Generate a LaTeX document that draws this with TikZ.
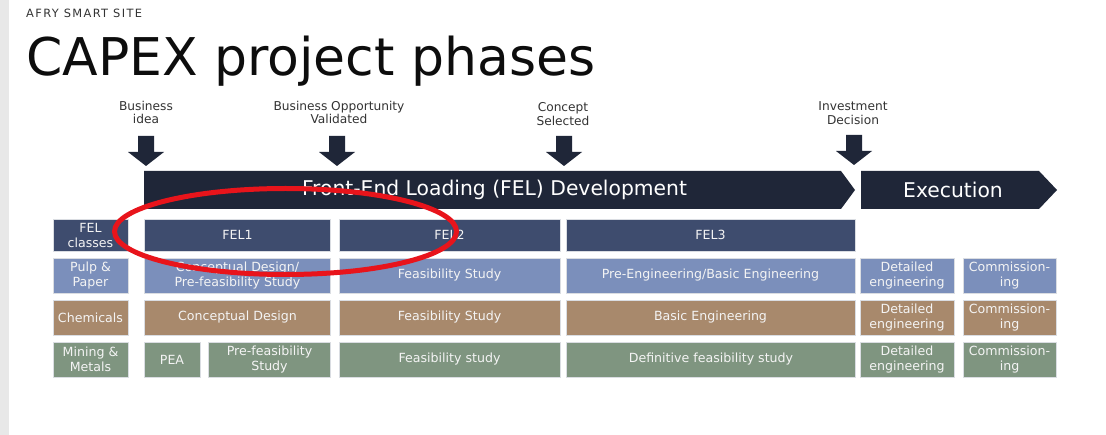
\documentclass[tikz,border=0pt]{standalone}
\usepackage{fontspec}
\setmainfont{DejaVu Sans}
\definecolor{darknavy}{HTML}{1F2638}
\definecolor{felblue}{HTML}{3E4C6E}
\definecolor{pulpblue}{HTML}{7B8FBB}
\definecolor{chembrown}{HTML}{A8896C}
\definecolor{minegreen}{HTML}{7F9580}
\definecolor{celltext}{HTML}{F4F4F4}
\definecolor{cellline}{HTML}{DADDE2}
\definecolor{markred}{HTML}{E8141B}
\tikzset{
  cell/.style = {rectangle, fill=#1, draw=cellline, line width=0.8pt,
                 text=celltext, align=center, inner sep=0pt,
                 font=\fontsize{12.6}{15}\selectfont, minimum height=35pt},
  cell/.default = pulpblue,
  milestone/.style = {align=center, text=black!80, inner sep=0pt,
                      font=\fontsize{12.2}{13.6}\selectfont},
  phase/.style = {text=white, inner sep=0pt,
                  font=\fontsize{20.3}{24}\selectfont}
}

\begin{document}
\begin{tikzpicture}[x=1pt, y=-1pt]
	\def \rowA{235}   % FEL classes
	\def \rowB{275.5} % Pulp & Paper
	\def \rowC{317.5} % Chemicals
	\def \rowD{359.5} % Mining & Metals

	\useasboundingbox (0,0) rectangle (1106,435);
	\fill[white] (0,0) rectangle (1106,435);
	\fill[black!9] (0,0) rectangle (9,435);

	% Heading
	\node[anchor=base west, inner sep=0pt, text=black!80,
	      font=\fontsize{11.4}{13}\selectfont\addfontfeature{LetterSpace=12}] (site) at (26,17.5) {AFRY SMART SITE};
	\node[anchor=base west, inner sep=0pt, text=black!95,
	      font=\fontsize{52}{60}\selectfont] (title) at (26,76) {CAPEX project phases};

	% Milestones
	\node[milestone] (idea)     at (146,112.5) {Business\\idea};
	\node[milestone] (validated) at (339,112.5) {Business Opportunity\\Validated};
	\node[milestone] (concept)  at (563,114) {Concept\\Selected};
	\node[milestone] (decision) at (853,113) {Investment\\Decision};

	% Block arrows
	\fill[darknavy] (146,166) -- ++(-18,-14) -- ++(10,0) -- ++(0,-16) -- ++(16,0) -- ++(0,16) -- ++(10,0) -- cycle;
	\fill[darknavy] (337,166) -- ++(-18,-14) -- ++(10,0) -- ++(0,-16) -- ++(16,0) -- ++(0,16) -- ++(10,0) -- cycle;
	\fill[darknavy] (564,166) -- ++(-18,-14) -- ++(10,0) -- ++(0,-16) -- ++(16,0) -- ++(0,16) -- ++(10,0) -- cycle;
	\fill[darknavy] (854,165) -- ++(-18,-14) -- ++(10,0) -- ++(0,-16) -- ++(16,0) -- ++(0,16) -- ++(10,0) -- cycle;

	% Chevrons
	\fill[darknavy] (144,171) -- (841,171) -- (855,190) -- (841,209) -- (144,209) -- cycle;
	\fill[darknavy] (861,171) -- (1039,171) -- (1057,190) -- (1039,209) -- (861,209) -- cycle;
	\node[phase] (fel)  at (494.5,190) {Front-End Loading (FEL) Development};
	\node[phase] (exec) at (953,190) {Execution};

	% FEL classes
	\node[cell=felblue, minimum width=75pt,  minimum height=32pt] (felcls) at (90.5,\rowA) {FEL\\classes};
	\node[cell=felblue, minimum width=186pt, minimum height=32pt] (fel1)   at (237.5,\rowA) {FEL1};
	\node[cell=felblue, minimum width=221pt, minimum height=32pt] (fel2)   at (449.5,\rowA) {FEL2};
	\node[cell=felblue, minimum width=289pt, minimum height=32pt] (fel3)   at (710.5,\rowA) {FEL3};

	% Pulp & Paper
	\node[cell=pulpblue, minimum width=75pt]  (pulplbl) at (90.5,\rowB)   {Pulp \&\\Paper};
	\node[cell=pulpblue, minimum width=186pt] (pulp1)   at (237.5,\rowB)  {Conceptual Design/\\Pre-feasibility Study};
	\node[cell=pulpblue, minimum width=221pt] (pulp2)   at (449.5,\rowB)  {Feasibility Study};
	\node[cell=pulpblue, minimum width=289pt] (pulp3)   at (710.5,\rowB)  {Pre-Engineering/Basic Engineering};
	\node[cell=pulpblue, minimum width=94pt]  (pulp4)   at (907,\rowB)    {Detailed\\engineering};
	\node[cell=pulpblue, minimum width=93pt]  (pulp5)   at (1009.5,\rowB) {Commission-\\ing};

	% Chemicals
	\node[cell=chembrown, minimum width=75pt]  (chemlbl) at (90.5,\rowC)   {Chemicals};
	\node[cell=chembrown, minimum width=186pt] (chem1)   at (237.5,\rowC)  {Conceptual Design};
	\node[cell=chembrown, minimum width=221pt] (chem2)   at (449.5,\rowC)  {Feasibility Study};
	\node[cell=chembrown, minimum width=289pt] (chem3)   at (710.5,\rowC)  {Basic Engineering};
	\node[cell=chembrown, minimum width=94pt]  (chem4)   at (907,\rowC)    {Detailed\\engineering};
	\node[cell=chembrown, minimum width=93pt]  (chem5)   at (1009.5,\rowC) {Commission-\\ing};

	% Mining & Metals
	\node[cell=minegreen, minimum width=75pt]  (minelbl) at (90.5,\rowD)   {Mining \&\\Metals};
	\node[cell=minegreen, minimum width=56pt]  (pea)     at (172,\rowD)    {PEA};
	\node[cell=minegreen, minimum width=122pt] (mine1)   at (269.5,\rowD)  {Pre-feasibility\\Study};
	\node[cell=minegreen, minimum width=221pt] (mine2)   at (449.5,\rowD)  {Feasibility study};
	\node[cell=minegreen, minimum width=289pt] (mine3)   at (711,\rowD)    {Definitive feasibility study};
	\node[cell=minegreen, minimum width=94pt]  (mine4)   at (907,\rowD)    {Detailed\\engineering};
	\node[cell=minegreen, minimum width=93pt]  (mine5)   at (1009.5,\rowD) {Commission-\\ing};

	% Highlight
	\draw[markred, line width=5pt] (285.5,231.5) ellipse [x radius=171pt, y radius=43pt];

\end{tikzpicture}
\end{document}
